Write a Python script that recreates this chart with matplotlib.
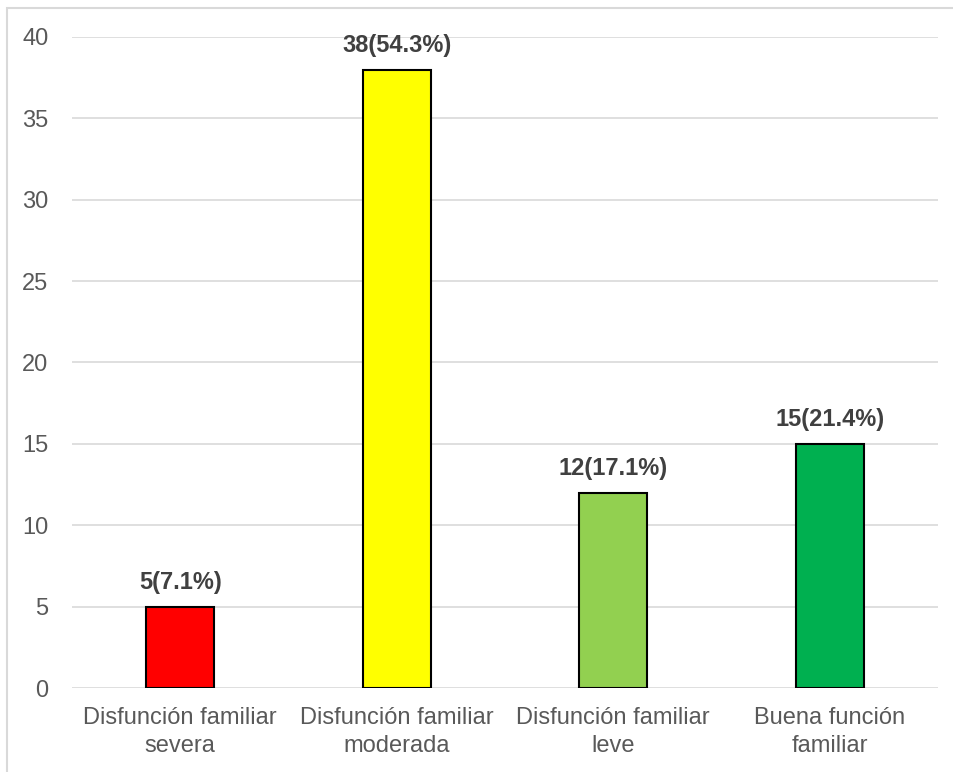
import matplotlib.pyplot as plt
from matplotlib.patches import Rectangle

# Datos del grafico
categorias = ["Disfunción familiar\nsevera", "Disfunción familiar\nmoderada",
              "Disfunción familiar\nleve", "Buena función\nfamiliar"]
frecuencias = [5, 38, 12, 15]
porcentajes = [7.1, 54.3, 17.1, 21.4]
colores = ["#ff0000", "#ffff00", "#92d050", "#00b050"]

plt.rcParams['font.family'] = ['Liberation Sans', 'DejaVu Sans']

fig = plt.figure(figsize=(9.54, 7.72), dpi=100)
ax = fig.add_axes([0.0755, 0.1088, 0.9077, 0.8433])

x = range(len(categorias))
bars = ax.bar(x, frecuencias, width=0.314, color=colores,
              edgecolor="black", linewidth=1.5, zorder=3)

for b, n, p in zip(bars, frecuencias, porcentajes):
    ax.annotate(f"{n}({p}%)", (b.get_x() + b.get_width() / 2, b.get_height()),
                xytext=(0, 9), textcoords="offset points",
                ha="center", va="bottom", fontsize=17, fontweight="bold",
                color="#404040")

ax.set_xlim(-0.5, len(categorias) - 0.5)
ax.set_ylim(0, 40)
ax.set_yticks(range(0, 41, 5))
ax.set_xticks(list(x))
ax.set_xticklabels(categorias, linespacing=1.3)
ax.tick_params(axis="both", length=0, labelsize=17, colors="#595959")
ax.tick_params(axis="y", pad=17)
ax.tick_params(axis="x", pad=14)
ax.yaxis.grid(True, color="#d9d9d9", linewidth=1.2, zorder=0)
for s in ax.spines.values():
    s.set_visible(False)

# marco del grafico (recortado a la derecha y abajo)
fig.patches.append(Rectangle((7 / 954, -0.1), 1.2, 1 - 8 / 772 + 0.1,
                             transform=fig.transFigure, fill=False,
                             edgecolor="#d9d9d9", linewidth=1.5))

fig.savefig("out.png", dpi=100)
